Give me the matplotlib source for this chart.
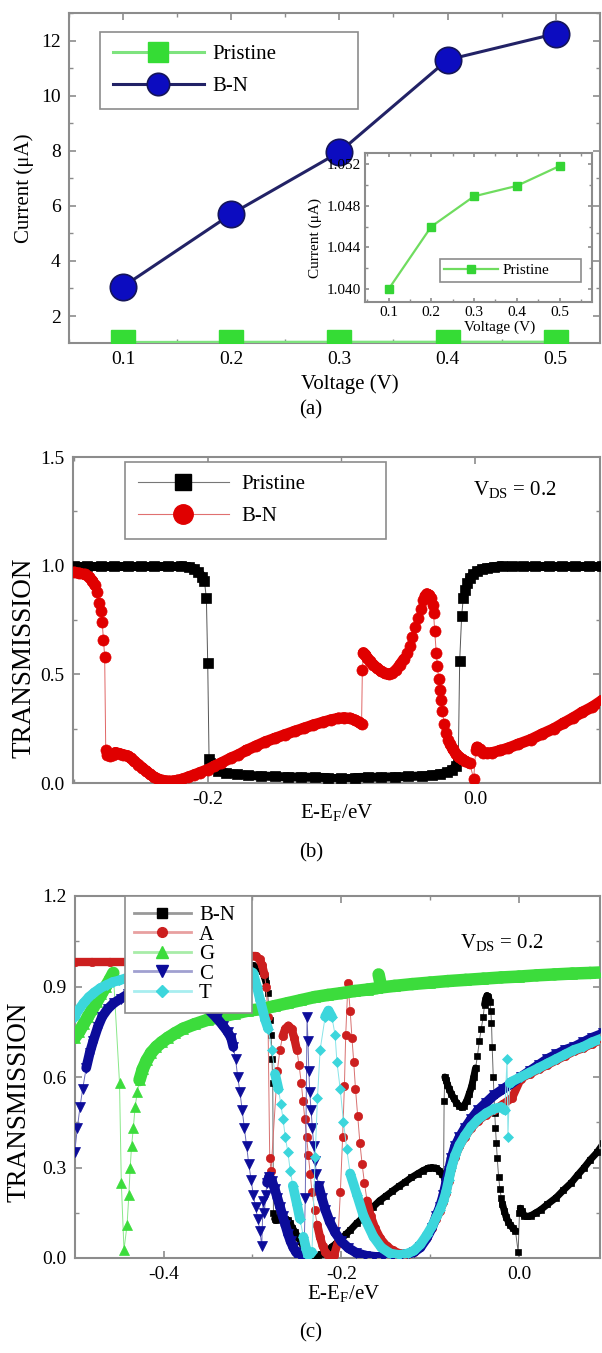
import matplotlib
matplotlib.use('Agg')
import matplotlib.pyplot as plt
from matplotlib.collections import LineCollection
from matplotlib.lines import Line2D
from matplotlib.ticker import MultipleLocator, FormatStrFormatter
import numpy as np

plt.rcParams['font.family'] = ['Liberation Serif', 'DejaVu Serif']
plt.rcParams['mathtext.fontset'] = 'custom'
plt.rcParams['mathtext.rm'] = 'Liberation Serif'
plt.rcParams['axes.unicode_minus'] = False

### DATA ###
# (a) I-V characteristics
voltage = [0.1, 0.2, 0.3, 0.4, 0.5]
current_pristine = [1.040, 1.046, 1.0489, 1.0499, 1.0518]
current_bn = [3.07, 5.70, 7.95, 11.30, 12.25]

# (b) transmission, pristine vs B-N doped
bp_energy = [-0.300, -0.290, -0.280, -0.270, -0.260, -0.250, -0.240, -0.230, -0.220, -0.214,
             -0.210, -0.207, -0.204, -0.2025, -0.2010, -0.2000, -0.1990, -0.1980, -0.1960, -0.1920,
             -0.1860, -0.178, -0.170, -0.160, -0.150, -0.140, -0.130, -0.120, -0.110, -0.100,
             -0.090, -0.080, -0.070, -0.060, -0.050, -0.040, -0.032, -0.026, -0.021, -0.017,
             -0.014, -0.0125, -0.0115, -0.0100, -0.0088, -0.0075, -0.0060, -0.0040, -0.0015, 0.0015,
             0.0050, 0.0090, 0.0140, 0.020, 0.028, 0.036, 0.045, 0.055, 0.065, 0.075,
             0.085, 0.095]
bp_trans = [1.0, 1.0, 1.0, 1.0, 1.0, 1.0, 1.0, 1.0, 1.0, 0.995,
            0.985, 0.97, 0.95, 0.93, 0.85, 0.55, 0.11, 0.09, 0.07, 0.055,
            0.045, 0.04, 0.035, 0.032, 0.03, 0.028, 0.027, 0.026, 0.025, 0.025,
            0.025, 0.026, 0.027, 0.028, 0.03, 0.032, 0.036, 0.042, 0.05, 0.062,
            0.08, 0.11, 0.56, 0.77, 0.85, 0.89, 0.92, 0.945, 0.96, 0.975,
            0.985, 0.99, 0.995, 1.0, 1.0, 1.0, 1.0, 1.0, 1.0, 1.0,
            1.0, 1.0]

bn_energy = [-0.3000, -0.2960, -0.2920, -0.2890, -0.2863, -0.2845, -0.2830, -0.2815, -0.2800, -0.2790,
             -0.2780, -0.2771, -0.2763, -0.2750, -0.2734, -0.2710, -0.2690, -0.2660, -0.2633, -0.2600,
             -0.2576, -0.2550, -0.2518, -0.2490, -0.2460, -0.2430, -0.2403, -0.2370, -0.2345, -0.2310,
             -0.2288, -0.2260, -0.2230, -0.2190, -0.2144, -0.2100, -0.2058, -0.2000, -0.1950, -0.1900,
             -0.1827, -0.1770, -0.1712, -0.1640, -0.1568, -0.1500, -0.1424, -0.1350, -0.1281, -0.1210,
             -0.1137, -0.1080, -0.1022, -0.0980, -0.0935, -0.0900, -0.0870, -0.0849, -0.0843, -0.0835,
             -0.0820, -0.0806, -0.0785, -0.0763, -0.0735, -0.0705, -0.0675, -0.0647, -0.0620, -0.0590,
             -0.0560, -0.0532, -0.0510, -0.0489, -0.0468, -0.0446, -0.0425, -0.0403, -0.0388, -0.0374,
             -0.0360, -0.0345, -0.0330, -0.0317, -0.0310, -0.0302, -0.0290, -0.0282, -0.0273, -0.0265,
             -0.0255, -0.0245, -0.0230, -0.0216, -0.0200, -0.0187, -0.0165, -0.0144, -0.0120, -0.0101,
             -0.0072, -0.0040, -0.0010, 0.0005, 0.0014, 0.0035, 0.0058, 0.0090, 0.0130, 0.0190,
             0.0245, 0.0320, 0.0417, 0.0500, 0.0590, 0.0660, 0.0734, 0.0800, 0.0878, 0.0950]
bn_trans = [0.97, 0.965, 0.96, 0.95, 0.93, 0.91, 0.88, 0.83, 0.79, 0.74,
            0.66, 0.58, 0.15, 0.13, 0.125, 0.13, 0.14, 0.135, 0.13, 0.125,
            0.115, 0.10, 0.085, 0.07, 0.055, 0.04, 0.028, 0.018, 0.012, 0.009,
            0.008, 0.009, 0.012, 0.018, 0.028, 0.038, 0.048, 0.062, 0.078, 0.092,
            0.115, 0.13, 0.15, 0.17, 0.19, 0.205, 0.222, 0.238, 0.252, 0.267,
            0.28, 0.29, 0.298, 0.30, 0.298, 0.29, 0.28, 0.27, 0.52, 0.60,
            0.59, 0.575, 0.56, 0.545, 0.53, 0.515, 0.505, 0.50, 0.505, 0.52,
            0.545, 0.57, 0.60, 0.63, 0.67, 0.72, 0.76, 0.80, 0.84, 0.86,
            0.87, 0.865, 0.85, 0.82, 0.78, 0.70, 0.60, 0.54, 0.48, 0.43,
            0.38, 0.33, 0.27, 0.23, 0.20, 0.18, 0.155, 0.135, 0.12, 0.11,
            0.10, 0.09, 0.02, 0.15, 0.165, 0.155, 0.14, 0.138, 0.14, 0.15,
            0.16, 0.178, 0.20, 0.225, 0.25, 0.275, 0.30, 0.325, 0.35, 0.38]

# (c) transmission for base molecules A, G, C, T (B-N reused from b)
ca_energy = [-0.500, -0.480, -0.460, -0.440, -0.420, -0.400, -0.380, -0.360, -0.340, -0.320,
             -0.310, -0.302, -0.296, -0.292, -0.289, -0.2865, -0.2845, -0.2825, -0.2805, -0.2790,
             -0.2720, -0.2690, -0.2660, -0.2630, -0.2595, -0.2560, -0.2530, -0.2500, -0.2475, -0.2450,
             -0.2430, -0.2410, -0.2390, -0.2370, -0.2350, -0.2330, -0.2300, -0.2270, -0.2240, -0.2210,
             -0.2180, -0.2150, -0.2120, -0.2080, -0.2040, -0.2010, -0.1985, -0.1965, -0.1950, -0.1925,
             -0.1900, -0.1880, -0.1860, -0.1840, -0.1815, -0.1790, -0.1765, -0.1740, -0.1710, -0.1670,
             -0.1620, -0.1560, -0.1490, -0.1420, -0.1340, -0.1250, -0.1180, -0.1110, -0.1040, -0.0980,
             -0.0930, -0.0890, -0.0850, -0.0820, -0.0790, -0.0760, -0.0720, -0.0670, -0.0610, -0.0540,
             -0.0460, -0.0370, -0.0280, -0.0180, -0.0080, 0.0020, 0.0120, 0.0220, 0.0320, 0.0420,
             0.0520, 0.0620, 0.0720, 0.0820, 0.0950]
ca_trans = [0.98, 0.98, 0.98, 0.98, 0.98, 0.98, 0.98, 0.98, 0.98, 0.98,
            0.99, 1.0, 1.0, 0.99, 0.97, 0.94, 0.90, 0.80, 0.33, 0.29,
            0.62, 0.69, 0.735, 0.76, 0.77, 0.76, 0.73, 0.69, 0.64, 0.58,
            0.52, 0.46, 0.40, 0.34, 0.28, 0.22, 0.16, 0.11, 0.07, 0.04,
            0.02, 0.01, 0.005, 0.01, 0.05, 0.22, 0.40, 0.57, 0.74, 0.91,
            0.82, 0.73, 0.65, 0.56, 0.47, 0.38, 0.31, 0.25, 0.19, 0.14,
            0.10, 0.065, 0.04, 0.025, 0.015, 0.012, 0.02, 0.04, 0.07, 0.10,
            0.13, 0.155, 0.185, 0.215, 0.255, 0.295, 0.335, 0.37, 0.40, 0.43,
            0.455, 0.475, 0.49, 0.51, 0.53, 0.595, 0.61, 0.625, 0.64, 0.655,
            0.67, 0.685, 0.695, 0.71, 0.725]

cg_energy = [-0.500, -0.495, -0.490, -0.485, -0.480, -0.475, -0.470, -0.465, -0.460, -0.4565,
             -0.4495, -0.4475, -0.4445, -0.4410, -0.4390, -0.4375, -0.4360, -0.4340, -0.4320, -0.4295,
             -0.4270, -0.4235, -0.4190, -0.4140, -0.4080, -0.4020, -0.3950, -0.3870, -0.3780, -0.3650,
             -0.3500, -0.3350, -0.3200, -0.3050, -0.2900, -0.2750, -0.2600, -0.2450, -0.2300, -0.2150,
             -0.2000, -0.1850, -0.1700, -0.1600, -0.1580, -0.1550, -0.1400, -0.1200, -0.1000, -0.0800,
             -0.0600, -0.0400, -0.0200, 0.0000, 0.0200, 0.0400, 0.0600, 0.0800, 0.0950]
cg_trans = [0.73, 0.75, 0.775, 0.80, 0.825, 0.85, 0.875, 0.90, 0.925, 0.945,
            0.58, 0.25, 0.027, 0.11, 0.21, 0.30, 0.37, 0.43, 0.50, 0.55,
            0.59, 0.625, 0.655, 0.68, 0.70, 0.715, 0.73, 0.745, 0.76, 0.775,
            0.79, 0.80, 0.81, 0.82, 0.825, 0.835, 0.845, 0.855, 0.865, 0.872,
            0.878, 0.885, 0.89, 0.894, 0.94, 0.897, 0.902, 0.908, 0.913, 0.918,
            0.922, 0.926, 0.93, 0.933, 0.937, 0.94, 0.943, 0.945, 0.947]

cc_energy = [-0.500, -0.497, -0.494, -0.491, -0.487, -0.483, -0.479, -0.474, -0.469, -0.463,
             -0.456, -0.448, -0.440, -0.430, -0.420, -0.410, -0.400, -0.390, -0.380, -0.370,
             -0.360, -0.350, -0.340, -0.333, -0.328, -0.324, -0.3215, -0.3190, -0.3165, -0.3140,
             -0.3115, -0.3090, -0.3065, -0.3040, -0.3015, -0.2990, -0.2965, -0.2940, -0.2915, -0.2895,
             -0.2880, -0.2865, -0.2850, -0.2835, -0.2810, -0.2780, -0.2750, -0.2720, -0.2690, -0.2660,
             -0.2630, -0.2600, -0.2570, -0.2540, -0.2510, -0.2480, -0.2450, -0.2420, -0.2405, -0.2385,
             -0.2375, -0.2365, -0.2355, -0.2340, -0.2325, -0.2310, -0.2295, -0.2280, -0.2255, -0.2220,
             -0.2180, -0.2130, -0.2070, -0.2000, -0.1920, -0.1830, -0.1730, -0.1630, -0.1530, -0.1430,
             -0.1330, -0.1250, -0.1180, -0.1110, -0.1040, -0.0980, -0.0930, -0.0890, -0.0850, -0.0820,
             -0.0790, -0.0760, -0.0720, -0.0670, -0.0610, -0.0540, -0.0460, -0.0370, -0.0280, -0.0180,
             -0.0080, 0.0020, 0.0120, 0.0220, 0.0320, 0.0420, 0.0520, 0.0620, 0.0720, 0.0820,
             0.0950]
cc_trans = [0.35, 0.43, 0.50, 0.56, 0.63, 0.68, 0.72, 0.765, 0.80, 0.825,
            0.845, 0.86, 0.875, 0.89, 0.895, 0.90, 0.90, 0.895, 0.885, 0.87,
            0.85, 0.825, 0.795, 0.77, 0.75, 0.73, 0.70, 0.66, 0.60, 0.55,
            0.49, 0.43, 0.37, 0.31, 0.26, 0.21, 0.17, 0.13, 0.09, 0.04,
            0.19, 0.15, 0.21, 0.25, 0.27, 0.255, 0.23, 0.20, 0.17, 0.14,
            0.11, 0.08, 0.055, 0.035, 0.02, 0.01, 0.004, 0.002, 0.20, 0.80,
            0.72, 0.62, 0.55, 0.49, 0.43, 0.37, 0.32, 0.28, 0.24, 0.20,
            0.16, 0.12, 0.085, 0.055, 0.033, 0.017, 0.008, 0.004, 0.003, 0.004,
            0.008, 0.013, 0.02, 0.035, 0.065, 0.10, 0.14, 0.17, 0.21, 0.25,
            0.29, 0.33, 0.37, 0.40, 0.43, 0.46, 0.49, 0.515, 0.54, 0.56,
            0.58, 0.60, 0.62, 0.64, 0.66, 0.675, 0.69, 0.70, 0.715, 0.73,
            0.745]

ct_energy = [-0.500, -0.495, -0.490, -0.484, -0.478, -0.471, -0.464, -0.457, -0.450, -0.440,
             -0.430, -0.420, -0.400, -0.380, -0.360, -0.340, -0.320, -0.305, -0.2992, -0.2950,
             -0.2913, -0.2857, -0.2823, -0.2782, -0.2745, -0.2707, -0.2680, -0.2655, -0.2630, -0.2600,
             -0.2575, -0.2545, -0.2500, -0.2465, -0.2426, -0.2395, -0.2370, -0.2330, -0.2294, -0.2268,
             -0.2238, -0.2181, -0.2144, -0.2106, -0.2070, -0.2049, -0.2012, -0.1975, -0.1938, -0.1900,
             -0.1824, -0.1750, -0.1637, -0.1550, -0.1450, -0.1350, -0.1250, -0.1180, -0.1110, -0.1040,
             -0.0980, -0.0930, -0.0890, -0.0850, -0.0820, -0.0790, -0.0760, -0.0720, -0.0670, -0.0610,
             -0.0540, -0.0460, -0.0370, -0.0280, -0.0200, -0.0160, -0.0135, -0.0125, -0.0105, -0.0080,
             0.0020, 0.0120, 0.0220, 0.0320, 0.0420, 0.0520, 0.0620, 0.0720, 0.0820, 0.0950]
ct_trans = [0.80, 0.825, 0.845, 0.865, 0.88, 0.895, 0.905, 0.915, 0.92, 0.93,
            0.935, 0.94, 0.945, 0.95, 0.955, 0.96, 0.96, 0.955, 0.945, 0.90,
            0.855, 0.79, 0.76, 0.69, 0.61, 0.56, 0.51, 0.46, 0.40, 0.35,
            0.29, 0.24, 0.18, 0.13, 0.07, 0.03, 0.005, 0.02, 0.335, 0.53,
            0.69, 0.80, 0.82, 0.80, 0.74, 0.65, 0.56, 0.45, 0.36, 0.28,
            0.21, 0.14, 0.07, 0.035, 0.015, 0.01, 0.015, 0.025, 0.045, 0.075,
            0.105, 0.135, 0.16, 0.19, 0.22, 0.26, 0.30, 0.34, 0.375, 0.405,
            0.435, 0.46, 0.48, 0.495, 0.50, 0.49, 0.66, 0.40, 0.58, 0.585,
            0.60, 0.615, 0.63, 0.645, 0.66, 0.675, 0.69, 0.70, 0.715, 0.73]
#############

GRAY = '#8c8c8c'
W, H = 602, 1353


def px_axes(left, top, right, bottom):
    # pixel box -> figure fraction
    return [left / W, 1 - bottom / H, (right - left) / W, (bottom - top) / H]


def style_axes(ax, size=14):
    for sp in ax.spines.values():
        sp.set_color(GRAY)
        sp.set_linewidth(1.5)
    ax.tick_params(which='both', direction='in', top=True, right=True,
                   colors=GRAY, labelcolor='black', labelsize=size, pad=6)
    ax.tick_params(which='major', length=5, width=1.2)
    ax.tick_params(which='minor', length=3, width=1.0)


def trace(ax, x, y, color, thin, marker, ms, band, thr, z):
    x = np.asarray(x)
    y = np.asarray(y)
    # thin connecting line underneath everything
    ax.plot(x, y, '-', color=thin, lw=0.7, zorder=z - 0.8)
    # where the curve is flat the dense markers merge into a thick band
    slope = np.abs(np.diff(y) / np.diff(x))
    segs = [[(x[i], y[i]), (x[i + 1], y[i + 1])] for i in range(len(x) - 1) if slope[i] < thr]
    ax.add_collection(LineCollection(segs, colors=color, linewidths=band,
                                     capstyle='round', zorder=z - 0.5))
    ax.plot(x, y, ls='none', marker=marker, ms=ms, mfc=color, mec=color, mew=0.5, zorder=z)


def key(color, thin, marker, ms, lw=1.0):
    return Line2D([], [], color=thin, lw=lw, marker=marker, ms=ms, mfc=color, mec=color)


def frame(leg):
    leg.get_frame().set_edgecolor(GRAY)
    leg.get_frame().set_linewidth(1.2)
    leg.set_zorder(10)


fig = plt.figure(figsize=(W / 100, H / 100), dpi=100)

# ---------- (a) ----------
ax1 = fig.add_axes(px_axes(69, 13, 600, 343))
ax1.plot(voltage, current_pristine, '-', color='#7ee37e', lw=2.2, marker='s', ms=17,
         mfc='#35dc35', mec='#35dc35', label='Pristine', zorder=3)
ax1.plot(voltage, current_bn, '-', color='#222266', lw=2.2, marker='o', ms=19,
         mfc='#0c0cc0', mec='#15155a', mew=1.2, label='B-N', zorder=4)
ax1.set_xlim(0.05, 0.541)
ax1.set_ylim(1.02, 13.0)
ax1.xaxis.set_major_locator(MultipleLocator(0.1))
ax1.xaxis.set_minor_locator(MultipleLocator(0.05))
ax1.yaxis.set_major_locator(MultipleLocator(2))
ax1.yaxis.set_minor_locator(MultipleLocator(1))
ax1.xaxis.set_major_formatter(FormatStrFormatter('%.1f'))
style_axes(ax1)
ax1.set_xlabel('Voltage (V)', fontsize=15)
ax1.xaxis.set_label_coords(0.529, -0.095)
ax1.set_ylabel('Current (μA)', fontsize=15)
ax1.yaxis.set_label_coords(-0.066, 0.47)
leg = ax1.legend(loc='upper left', bbox_to_anchor=(0.0584, 0.679, 0.486, 0.2636), mode='expand',
                 borderaxespad=0, fontsize=15, handlelength=4.4, handletextpad=0.4,
                 labelspacing=0.6, borderpad=0.6, markerscale=0.85, fancybox=False, framealpha=1)
frame(leg)

# inset
axi = fig.add_axes(px_axes(365, 153, 592, 302))
axi.plot(voltage, current_pristine, '-', color='#6fdc5f', lw=1.6, marker='s', ms=6,
         mfc='#35d435', mec='#35d435', label='Pristine')
axi.set_xlim(0.045, 0.576)
axi.set_ylim(1.03878, 1.05305)
axi.xaxis.set_major_locator(MultipleLocator(0.1))
axi.xaxis.set_minor_locator(MultipleLocator(0.05))
axi.yaxis.set_major_locator(MultipleLocator(0.004))
axi.yaxis.set_minor_locator(MultipleLocator(0.002))
axi.xaxis.set_major_formatter(FormatStrFormatter('%.1f'))
axi.yaxis.set_major_formatter(FormatStrFormatter('%.3f'))
style_axes(axi, size=11)
axi.tick_params(which='both', pad=3)
axi.tick_params(which='major', length=3)
axi.tick_params(which='minor', length=2)
axi.set_xlabel('Voltage (V)', fontsize=11)
axi.xaxis.set_label_coords(0.595, -0.125)
axi.set_ylabel('Current (μA)', fontsize=11)
axi.yaxis.set_label_coords(-0.19, 0.43)
leg = axi.legend(loc='center', bbox_to_anchor=(0.33, 0.1275, 0.62, 0.1675), mode='expand',
                 borderaxespad=0, fontsize=11, handlelength=3.5, handletextpad=0.3,
                 borderpad=0.3, fancybox=False, framealpha=1)
frame(leg)

fig.text(311 / W, 1 - 410 / H, '(a)', ha='center', va='center', fontsize=15)

# ---------- (b) ----------
ax2 = fig.add_axes(px_axes(73, 457, 600, 783))
trace(ax2, bp_energy, bp_trans, 'black', '#555555', 's', 6.5, 6.5, 12, 3)
trace(ax2, bn_energy, bn_trans, '#e00000', '#e06666', 'o', 8, 8, 12, 4)
ax2.set_xlim(-0.3008, 0.0935)
ax2.set_ylim(0, 1.5)
ax2.xaxis.set_major_locator(MultipleLocator(0.2))
ax2.xaxis.set_minor_locator(MultipleLocator(0.1))
ax2.yaxis.set_major_locator(MultipleLocator(0.5))
ax2.yaxis.set_minor_locator(MultipleLocator(0.25))
ax2.xaxis.set_major_formatter(FormatStrFormatter('%.1f'))
ax2.yaxis.set_major_formatter(FormatStrFormatter('%.1f'))
style_axes(ax2)
ax2.set_xlabel(r'E-E$_\mathrm{F}$/eV', fontsize=15)
ax2.xaxis.set_label_coords(0.501, -0.058)
ax2.set_ylabel('TRANSMISSION', fontsize=19.5)
ax2.yaxis.set_label_coords(-0.070, 0.383)
ax2.text(0.759, 0.883, r'V$_\mathrm{DS}$ = 0.2', transform=ax2.transAxes, fontsize=15,
         va='baseline')
leg = ax2.legend([key('black', '#777777', 's', 12, 0.8), key('#e00000', '#e07070', 'o', 14, 0.8)],
                 ['Pristine', 'B-N'], loc='upper left',
                 bbox_to_anchor=(0.0987, 0.7209, 0.4953, 0.2638), mode='expand',
                 borderaxespad=0, fontsize=15, handlelength=4.4, handletextpad=0.6,
                 labelspacing=0.6, borderpad=0.6, fancybox=False, framealpha=1)
frame(leg)

fig.text(311 / W, 1 - 853 / H, '(b)', ha='center', va='center', fontsize=15)

# ---------- (c) ----------
ax3 = fig.add_axes(px_axes(75, 896, 600, 1258))
trace(ax3, bn_energy, bn_trans, 'black', '#666666', 's', 5, 5, 15, 3)
trace(ax3, ca_energy, ca_trans, '#cc1f1f', '#d87070', 'o', 6, 6, 15, 4)
trace(ax3, cg_energy, cg_trans, '#3cdc3c', '#88e888', '^', 7, 9, 15, 5)
trace(ax3, cc_energy, cc_trans, '#0c0c9a', '#6a6ab8', 'v', 7, 7, 15, 6)
trace(ax3, ct_energy, ct_trans, '#3cd6dc', '#88e4e8', 'D', 5.5, 7, 15, 7)
ax3.set_xlim(-0.4996, 0.0911)
ax3.set_ylim(0, 1.2)
ax3.xaxis.set_major_locator(MultipleLocator(0.2))
ax3.xaxis.set_minor_locator(MultipleLocator(0.1))
ax3.yaxis.set_major_locator(MultipleLocator(0.3))
ax3.yaxis.set_minor_locator(MultipleLocator(0.15))
ax3.xaxis.set_major_formatter(FormatStrFormatter('%.1f'))
ax3.yaxis.set_major_formatter(FormatStrFormatter('%.1f'))
style_axes(ax3)
ax3.set_xlabel(r'E-E$_\mathrm{F}$/eV', fontsize=15)
ax3.xaxis.set_label_coords(0.512, -0.069)
ax3.set_ylabel('TRANSMISSION', fontsize=19.5)
ax3.yaxis.set_label_coords(-0.082, 0.431)
ax3.text(0.733, 0.856, r'V$_\mathrm{DS}$ = 0.2', transform=ax3.transAxes, fontsize=15,
         va='baseline')
handles = [key('black', '#999999', 's', 7, 2), key('#cc1f1f', '#e8a0a0', 'o', 7, 2),
           key('#3cdc3c', '#a8eca8', '^', 8, 2), key('#0c0c9a', '#a0a0d0', 'v', 8, 2),
           key('#3cd6dc', '#a8eef0', 'D', 6.5, 2)]
leg = ax3.legend(handles, ['B-N', 'A', 'G', 'C', 'T'], loc='upper left',
                 bbox_to_anchor=(0.0952, 0.619, 0.2419, 0.381), mode='expand',
                 borderaxespad=0, fontsize=15, handlelength=2.7, handletextpad=0.4,
                 labelspacing=0.0, borderpad=0.45, fancybox=False, framealpha=1)
frame(leg)

fig.text(311 / W, 1 - 1333 / H, '(c)', ha='center', va='center', fontsize=15)

fig.savefig('out.png', dpi=100)
